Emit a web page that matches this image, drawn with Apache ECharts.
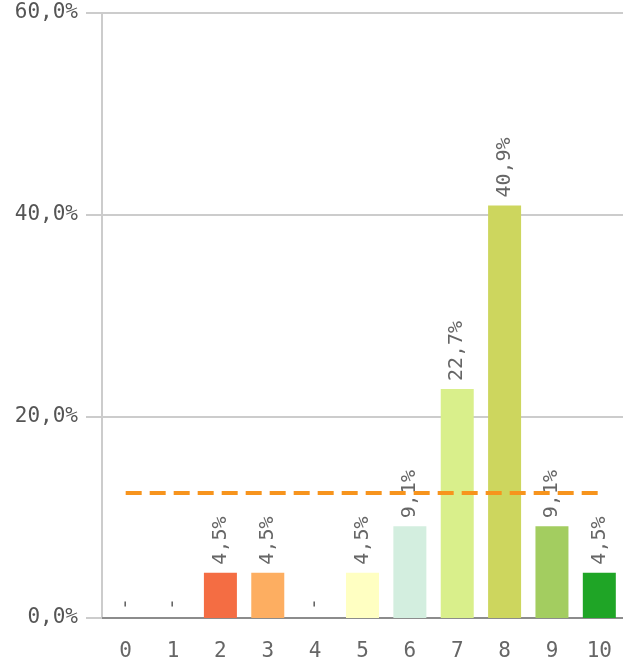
<!DOCTYPE html>
<html>
<head>
<meta charset="utf-8">
<script src="https://cdn.jsdelivr.net/npm/echarts@6/dist/echarts.min.js"></script>
<style>
  html, body { margin: 0; padding: 0; background: #fff; }
  #chart { width: 623px; height: 664px; }
</style>
</head>
<body>
<div id="chart"></div>
<script>
// Score distribution (share of answers per score, %)
const categories = ['0', '1', '2', '3', '4', '5', '6', '7', '8', '9', '10'];
const shares = [0, 0, 4.5, 4.5, 0, 4.5, 9.1, 22.7, 40.9, 9.1, 4.5];
const barColors = ['#d73027', '#e5502e', '#f46d43', '#fdae61', '#fee08b', '#ffffc2',
                   '#d3eedf', '#d9ef8b', '#cdd65e', '#a3cd60', '#1fa526'];
// Reference level drawn as a dashed line across all scores
const reference = [12.4, 12.4, 12.4, 12.4, 12.4, 12.4, 12.4, 12.4, 12.4, 12.4, 12.4];
const yTicks = [0, 20, 40, 60];

const fmt = v => v.toFixed(1).replace('.', ',') + '%';
const mono = 'DejaVu Sans Mono';

const chart = echarts.init(document.getElementById('chart'), null, { renderer: 'canvas' });
chart.setOption({
  animation: false,
  grid: { left: 102, right: -4, top: 13, bottom: 46, containLabel: false },
  xAxis: {
    type: 'category',
    data: categories,
    axisLine: { show: true, lineStyle: { color: '#8c8c8c', width: 2 } },
    axisTick: { show: false },
    axisLabel: { color: '#666', fontFamily: mono, fontSize: 21, margin: 23 }
  },
  yAxis: {
    type: 'value',
    min: yTicks[0],
    max: yTicks[yTicks.length - 1],
    interval: 20,
    axisLine: { show: true, lineStyle: { color: '#cccccc', width: 2 } },
    axisTick: { show: true, length: 16, lineStyle: { color: '#cccccc', width: 2 } },
    splitLine: { show: true, lineStyle: { color: '#cccccc', width: 2 } },
    axisLabel: { color: '#555', fontFamily: mono, fontSize: 21, margin: 24,
                 formatter: v => fmt(v) }
  },
  series: [
    {
      type: 'bar',
      barWidth: 33,
      data: shares.map((v, i) => ({ value: v, itemStyle: { color: barColors[i] } })),
      label: {
        show: true,
        position: 'top',
        rotate: 90,
        align: 'left',
        verticalAlign: 'middle',
        distance: 8,
        color: '#666',
        fontFamily: mono,
        fontSize: 20,
        formatter: p => (p.value === 0 ? '-' : fmt(p.value))
      }
    },
    {
      type: 'line',
      data: reference,
      symbol: 'none',
      silent: true,
      lineStyle: { color: '#f7941d', width: 4, type: [16, 8] },
      z: 5
    }
  ]
});
</script>
</body>
</html>
